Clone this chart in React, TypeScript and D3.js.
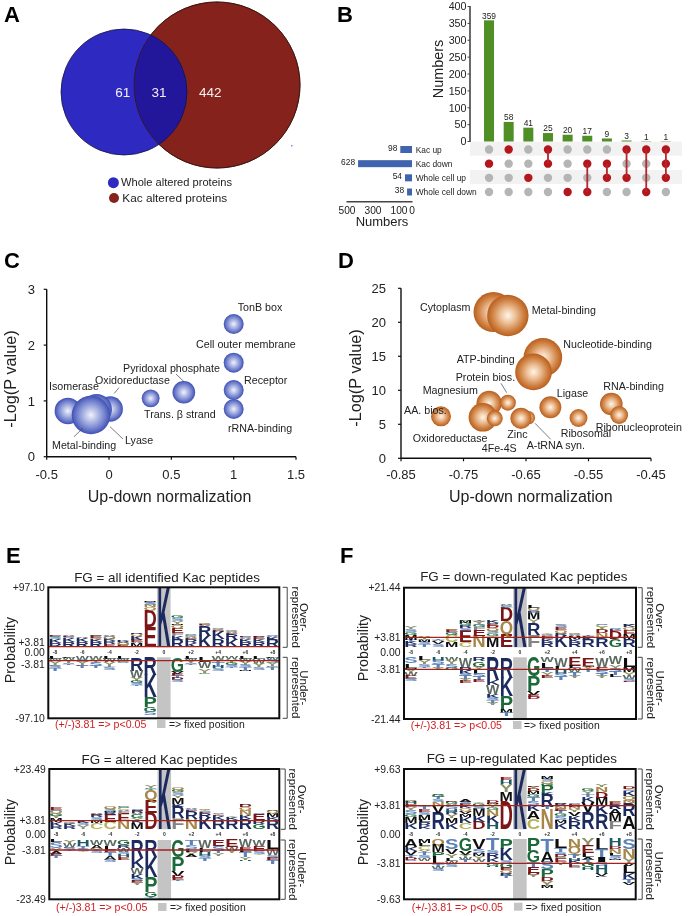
import React from "react";
import * as d3 from "d3";

const FONT = "'Liberation Sans', Arial, sans-serif";

// Panel A
const vennCounts = [61, 31, 442];
const vennLegend = ["Whole altered proteins", "Kac altered proteins"];

// Panel B
const intersectionCounts = [359, 58, 41, 25, 20, 17, 9, 3, 1, 1];
const setNames = ["Kac up", "Kac down", "Whole cell up", "Whole cell down"];
const setLabels = [98, 628, 54, 38];
const setBarLengths = [90, 415, 54, 38];
const setTicks = [500, 300, 100, 0];
const countTicks = [0, 50, 100, 150, 200, 250, 300, 350, 400];
const memberships = [[1], [0], [2], [0, 1], [3], [1, 3], [1, 2], [0, 2], [0, 3], [0, 1, 2]];

// Panel C
const cNames = ["Isomerase", "Oxidoreductase", "Lyase", "Metal-binding", "Trans. β strand", "Pyridoxal phosphate", "TonB box", "Cell outer membrane", "Receptor", "rRNA-binding"];
const cX = [-0.33, 0.01, -0.10, -0.145, 0.334, 0.6, 1, 1, 1, 1];
const cY = [0.82, 0.855, 0.85, 0.747, 1.046, 1.154, 2.378, 1.685, 1.195, 0.855];
const cWeight = [44, 40, 59, 93, 20, 32, 25, 25, 25, 25];
const cXTicks = [-0.5, 0, 0.5, 1, 1.5];
const cYTicks = [0, 1, 2, 3];

// Panel D
const dNames = ["Cytoplasm", "Metal-binding", "Nucleotide-binding", "ATP-binding", "Magnesium", "Protein bios.", "Oxidoreductase", "4Fe-4S", "A-tRNA syn.", "Zinc", "AA. bios.", "Ligase", "Ribosomal", "RNA-binding", "Ribonucleoprotein"];
const dX = [-0.702, -0.679, -0.623, -0.638, -0.709, -0.679, -0.719, -0.70, -0.646, -0.658, -0.786, -0.611, -0.566, -0.5135, -0.501];
const dY = [21.5, 21.0, 14.85, 12.7, 8.08, 8.18, 6.03, 5.88, 5.97, 5.88, 6.17, 7.5, 5.93, 7.98, 6.37];
const dWeight = [100, 107, 93, 84, 40, 16, 51, 16, 11, 28, 25, 30, 20, 32, 20];
const dXTicks = [-0.85, -0.75, -0.65, -0.55, -0.45];
const dYTicks = [0, 5, 10, 15, 20, 25];

// Logo panels: each column lists residues and heights from the axis outward
const logoPositions = ["-8", "", "-6", "", "-4", "", "-2", "", "0", "", "+2", "", "+4", "", "+6", "", "+8"];

const e1Over = ["R4 K4 S2 G1 E1", "R5 K4 S1 E1 A1", "R5 K4 A1", "R5 K3 Q1 E2 G1", "E3 R3 K2 Q2 S1 A1", "E2 Q2 A1 R1 K1", "M4 A1 E2 K4 Q2 R1", "E20 D17 Q3 N2 S2 T1 M1", "K60", "R7 K4 F3 E5 Q3 M1 Y3 S3 G2", "K4 R4 E1 A1 Q1 G1 S1", "K11 R10 A1 E1 Q1", "R8 K7 A1 E1 Q1 S1", "K7 R6 E1 A1 S1 Q1", "R5 K3 A1 S1 E1", "R5 K3 E2 A1", "R7 K3 A1 S1"];
const e1Under = ["L2 W2 Y4 G1 S2 T2", "L1 W2 Y3 S1 T1", "W3 S2 Y3 E1 T2", "W3 Y3 S3 T2", "L2 W3 Y4 T1 S2", "L2 W2 G1 S1", "R13 W7 Y3 G2 S2 T1", "R17 K22 P10 G5 S3", "", "G14 V2 E2 T2 D2 S2", "L2 W2 Y2 S1 T1", "L5 W6 Y4 G1", "W3 Y3 T3 H2 S2", "W2 Y4 G2 S2 T1", "L2 W3 Y3 S2 T2 M1", "L2 W5 Y3 S2", "L1 W2 S3 Y3 G1 T2"];

const e2Over = ["R3 K4 M4 Y2 G3 Q2 S1 E2", "R3 K2 S1 Q1", "Y4 S2 K2 G1", "C6 M3 S3 R2 E1 A1", "C7 E7 R3 M1 S2 Q2", "N8 E7 F3 A1 C2 S1 G1", "M6 K2 Y3 G4 A1 R2 E1 S1", "D16 E13 Q10 T1 G1 Y2", "K60", "F10 N1 R11 K3 M6 Y3 S3 G2 Q3", "N10 R8 E1 S1 A1", "K11 R5 E1 S1 Y1 Q1", "R9 K4 E1 Y1 S1", "R9 K3 Y1", "R10 K4 N5 Q3 D2 A1", "G5 R4 E6 S1", "R9 K3 M4 Q2 A1"];
const e2Under = ["L2 S6 Y3 A3 E2 T2", "Y3 W4 K1 S2 T1", "H6 T3 S2 Y1", "W5 A4 Y2 S2", "W6 L4 E2 T4 A4 S2", "G5 R3 W4 S2 H3 E3", "R18 K10 W6 K5 S2 E3 Y2", "R17 K20 P16 G5 T1", "", "G17 P14 V5 D2 E2 T1", "T5 S4 L3 Y3 A2", "W8 L4 H4 S2 T3", "E6 S5 T2 Y3", "E7 W4 Y2", "W7 E3 L2 T5 Y3 H1", "W6 E5 S3 Y1", "L9 W6 S3 E2 T4"];

const f1Over = ["R3 K2 T2 M5 G3 S3 Y2", "T3 S2 M2 N1 Y2", "S3 V3 A1 T1", "M5 C7 G2 S1 E2 Q1", "C5 E11 S3 R3 G2 M2 Y1", "N11 E6 F3 G2 S1 Y2 Q1 T1", "M10 Y1 G3 S2 Q3 D2 E2 H1 K3", "E13 Q13 D14 T1 S1 G1 A1", "K60", "F12 R12 Y4 M7 S3 Q2 L3", "R5 K3 E3 S1 Q1 Y1", "K11 R3 Q3 E3 S2 Y1", "R5 K3 M3 A1 S1 Q1", "R7 K2 S1 E1 T1", "R9 N5 D4 Y2 C2 S1", "G8 D8 E1 K1 S1", "R8 M5 E4 Q3 K2 A1"];
const f1Under = ["S6 L4 M1 Y4 W3 E3 S2", "L3 Y4 S2 T1", "H4 S3 T3 Y2", "W4 Y3 S3 G2", "W9 R4 K3 S2 T3 Y2 E2", "R4 G5 Y3 L4 S3 T3 E2", "R22 K5 W9 K4 S2 T2 Y2", "R20 K18 P13 M3 T3", "", "G18 P15 V4 E2 D2", "W5 L5 T4 Y4 E2", "W9 L3 H4 S3 T3", "E8 L2 W4 T4 Y2", "E9 Y3 T2", "W9 E4 S3 T2 Y2", "W7 Y4 S3 T3 L2", "L9 M5 Y4 W3 S2 E1"];

const f2Over = ["K6 M6 G3 S4 Y3 E3 H2 A1 Q1", "K3 R4 L2 M5 S3 E3 T2", "R16 V7 N4 S3 T2 G2 A1", "K6 M5 Y4 R2 H3 S4 A1 G2 D1", "C6 K6 M3 V3 Q3 K2 E2 S2 A2", "D7 K6 M7 S3 G3 Y1", "H6 K7 N6 G3 Y3 M1 D2", "D28 M9 Y8 H4 E3", "K60", "C10 A8 K6 S4 T4 G3 M3 D2 Y2 E1", "N20 T2 R12 K2 P7 G2 Q3 S2 M2", "K6 M3 S4 G3 T2 E2 N3 R2 A1", "R8 K5 V4 Y3 N2 E3 S1", "R17 V10 K5 T3 Y3 G2", "R15 K9 M7 D6 N5 Y2", "F8 M7 A5 R5 E2 Q1", "A13 R13 N3 Q4 K5 S1 Y1 D2"];
const f2Under = ["A8 K4 V4 T3 D2 S1", "M4 L3 C4 Y3 T2 S3 W3", "Q6 M7 P5 L7 T3 W2 S2", "S10 V5 Y4 L3 W3 S3", "G12 V4 Y2 W3 T2", "V10 S4 M3 Y3 W3", "T11 S3 R5 K4 Y1 G3 H1", "P10 K11 S3 G5 E2 Q3 R3 T2", "", "P12 G11 T5 E6 D2 Y2", "T13 A10 S7 P8 D4 Y5 M2", "L9 T4 S3 D2 G1 E4 Y3", "N8 Q7 T4 H3 K2 E4 S1", "Y7 E7 L4 A3 T2 G5 H3", "L11 T7 I5 S4 H7 V3 K1", "H7 D3 N5 L2 S2 T1 M1", "S10 N9 Y5 V3 L7 K6 T4 V2"];

const residueColor: Record<string, string> = {
  K: "#1b2a5e", R: "#1b2a5e", H: "#1f5a66", D: "#7c1418", E: "#7c1418",
  G: "#1e6b3a", P: "#1e6b3a", N: "#a8864a", Q: "#a8864a", C: "#b5b35c",
  S: "#5b82b9", T: "#5b82b9", Y: "#8d9266", W: "#5c6a62", F: "#858585",
  A: "#111", L: "#111", M: "#111", V: "#111", I: "#111",
};
const glyphWidth: Record<string, number> = {
  A: .722, C: .722, D: .722, E: .667, F: .611, G: .778, H: .722, I: .278, K: .722, L: .611,
  M: .833, N: .722, P: .667, Q: .778, R: .722, S: .667, T: .611, V: .667, W: .944, Y: .667,
};
const parseColumn = (s: string) => s.split(" ").filter(Boolean).map((t) => ({ letter: t[0], height: +t.slice(1) }));

type LogoProps = {
  title: string; titleX: number; titleY: number;
  x0: number; x1: number; y0: number; y1: number; upBase: number; lowStart: number;
  redOver: number; redUnder: number; maxP: number; labelNudge?: number[];
  over: string[]; under: string[];
  probX: number; probY: number; footY: number; footX: number; squareX: number; textX: number;
  brX: number; repX: number; ovX: number;
};

function Logo(p: LogoProps) {
  const col = d3.scaleBand<number>().domain(d3.range(17)).range([p.x0, p.x1]);
  const w = col.bandwidth();
  const upUnit = d3.scaleLinear().domain([0, 60]).range([0, p.upBase - p.y0]);
  const lowUnit = d3.scaleLinear().domain([0, 60]).range([0, p.y1 - p.lowStart]);
  const zeroY = (p.upBase + p.lowStart) / 2;
  const prob = d3.scaleLinear().domain([-p.maxP, -3.81, 0, 3.81, p.maxP]).range([p.y1, p.redUnder, zeroY, p.redOver, p.y0]);
  const axisTicks = [p.maxP, 3.81, 0, -3.81, -p.maxP];
  const nudge = p.labelNudge || [0, 0];
  const clipId = `logo-${Math.round(p.x0)}-${Math.round(p.y0)}`;
  const glyph = (letter: string, cx: number, bottom: number, h: number, key: string) => {
    const sx = (w * 0.98) / (glyphWidth[letter] * 10);
    const sy = h / (10 * 0.688);
    return (
      <text key={key} transform={`translate(${cx},${bottom}) scale(${sx},${sy})`} fontSize={10} fontWeight="bold" textAnchor="middle" fill={residueColor[letter]}>
        {letter}
      </text>
    );
  };
  return (
    <g fontFamily={FONT}>
      <text x={p.titleX} y={p.titleY} fontSize={13.4} textAnchor="middle" fill="#222">{p.title}</text>
      <defs>
        <clipPath id={clipId}><rect x={p.x0} y={p.y0} width={p.x1 - p.x0} height={p.y1 - p.y0} /></clipPath>
      </defs>
      <g clipPath={`url(#${clipId})`}>
        <rect x={col(8)} y={p.y0} width={w} height={p.upBase - p.y0} fill="#c4c4c4" />
        <rect x={col(8)} y={p.lowStart} width={w} height={p.y1 - p.lowStart} fill="#c4c4c4" />
        {p.over.map((s, i) => {
          let acc = 0;
          return parseColumn(s).map((c, j) => {
            const h = upUnit(c.height);
            const bottom = p.upBase - acc;
            acc += h;
            return glyph(c.letter, col(i)! + w / 2, bottom, h, `o${i}-${j}`);
          });
        })}
        {p.under.map((s, i) => {
          let acc = 0;
          return parseColumn(s).map((c, j) => {
            const h = lowUnit(c.height);
            acc += h;
            return glyph(c.letter, col(i)! + w / 2, p.lowStart + acc, h, `u${i}-${j}`);
          });
        })}
      </g>
      {logoPositions.map((t, i) => t && (
        <text key={i} x={col(i)! + w / 2} y={zeroY + 1.8} fontSize={5} fontWeight="bold" textAnchor="middle" fill="#333">{t}</text>
      ))}
      <line x1={p.x0} x2={p.x1} y1={prob(3.81)} y2={prob(3.81)} stroke="#a3201f" strokeWidth={1.3} />
      <line x1={p.x0} x2={p.x1} y1={prob(-3.81)} y2={prob(-3.81)} stroke="#a3201f" strokeWidth={1.3} />
      <rect x={p.x0} y={p.y0} width={p.x1 - p.x0} height={p.y1 - p.y0} fill="none" stroke="#111" strokeWidth={2} />
      {axisTicks.map((t, i) => {
        const y = prob(t) + (t === 3.81 ? nudge[0] : t === -3.81 ? nudge[1] : 0);
        const label = t === 0 ? "0.00" : (t > 0 ? "+" : "-") + Math.abs(t).toFixed(2);
        return <text key={i} x={p.x0 - 3.5} y={y + 3.6} fontSize={10.4} textAnchor="end" fill="#222">{label}</text>;
      })}
      <text transform={`translate(${p.probX},${p.probY}) rotate(-90)`} fontSize={14.2} textAnchor="middle" fill="#222">Probability</text>
      <path d={`M${p.brX},${p.y0}H${p.brX + 4.5}V${p.upBase}H${p.brX}`} fill="none" stroke="#444" strokeWidth={1} />
      <path d={`M${p.brX},${p.lowStart}H${p.brX + 4.5}V${p.y1}H${p.brX}`} fill="none" stroke="#444" strokeWidth={1} />
      <text transform={`translate(${p.repX},${(p.y0 + p.upBase) / 2}) rotate(90)`} fontSize={11.5} textAnchor="middle" fill="#222">represented</text>
      <text transform={`translate(${p.ovX},${(p.y0 + p.upBase) / 2}) rotate(90)`} fontSize={11.5} textAnchor="middle" fill="#222">Over-</text>
      <text transform={`translate(${p.repX},${(p.y1 + p.lowStart) / 2}) rotate(90)`} fontSize={11.5} textAnchor="middle" fill="#222">represented</text>
      <text transform={`translate(${p.ovX},${(p.y1 + p.lowStart) / 2}) rotate(90)`} fontSize={11.5} textAnchor="middle" fill="#222">Under-</text>
      <text x={p.footX} y={p.footY} fontSize={10.6} fill="#d11f24">(+/-)3.81 =&gt; p&lt;0.05</text>
      <rect x={p.squareX} y={p.footY - 8} width={8.5} height={8} fill="#c4c4c4" />
      <text x={p.textX} y={p.footY} fontSize={10.4} fill="#222">=&gt; fixed position</text>
    </g>
  );
}

type BubbleProps = {
  names: string[]; xs: number[]; ys: number[]; weights: number[]; grad: string;
  xDomain: number[]; xRange: number[]; yDomain: number[]; yRange: number[];
  xTicks: number[]; yTicks: number[]; xFmt: (v: number) => string;
  labelPos: number[][]; leaders: number[][]; xLabelY: number; yLabelRight: number;
  yTitleX: number; yTitleY: number; xTitleX: number; xTitleY: number; order: number[]; labelSize: number;
};

function Bubbles(p: BubbleProps) {
  const x = d3.scaleLinear().domain(p.xDomain).range(p.xRange);
  const y = d3.scaleLinear().domain(p.yDomain).range(p.yRange);
  const r = d3.scaleSqrt().domain([0, 100]).range([0, 20]);
  return (
    <g fontFamily={FONT}>
      {p.order.map((i) => (
        <circle key={i} cx={x(p.xs[i])} cy={y(p.ys[i])} r={r(p.weights[i])} fill={`url(#${p.grad})`} />
      ))}
      {p.leaders.map((l, i) => (
        <line key={i} x1={l[0]} y1={l[1]} x2={l[2]} y2={l[3]} stroke="#444" strokeWidth={0.7} />
      ))}
      <line x1={p.xRange[0]} x2={p.xRange[0]} y1={p.yRange[0]} y2={p.yRange[1]} stroke="#111" strokeWidth={1.4} />
      <line x1={p.xRange[0]} x2={p.xRange[1]} y1={p.yRange[0]} y2={p.yRange[0]} stroke="#111" strokeWidth={1.4} />
      {p.yTicks.map((t) => (
        <g key={t}>
          <line x1={p.xRange[0] - 3} x2={p.xRange[0]} y1={y(t)} y2={y(t)} stroke="#111" strokeWidth={1.2} />
          <text x={p.yLabelRight} y={y(t) + 4.6} fontSize={13} textAnchor="end" fill="#222">{t}</text>
        </g>
      ))}
      {p.xTicks.map((t) => (
        <g key={t}>
          <line x1={x(t)} x2={x(t)} y1={p.yRange[0]} y2={p.yRange[0] + 3} stroke="#111" strokeWidth={1.2} />
          <text x={x(t)} y={p.xLabelY} fontSize={13} textAnchor="middle" fill="#222">{p.xFmt(t)}</text>
        </g>
      ))}
      <text transform={`translate(${p.yTitleX},${p.yTitleY}) rotate(-90)`} fontSize={16.3} textAnchor="middle" fill="#222">-Log(P value)</text>
      <text x={p.xTitleX} y={p.xTitleY} fontSize={16} textAnchor="middle" fill="#222">Up-down normalization</text>
      {p.names.map((n, i) => (
        <text key={n} x={p.labelPos[i][0]} y={p.labelPos[i][1]} fontSize={p.labelSize} fill="#222">{n}</text>
      ))}
    </g>
  );
}

function Venn() {
  return (
    <g fontFamily={FONT}>
      <defs>
        <clipPath id="redClip"><circle cx={217} cy={85} r={83} /></clipPath>
      </defs>
      <circle cx={217} cy={85} r={83} fill="#85241b" stroke="#3a1310" strokeWidth={0.8} />
      <circle cx={124} cy={92} r={63} fill="#2e2bc1" />
      <circle cx={124} cy={92} r={63} fill="#23169b" clipPath="url(#redClip)" />
      <circle cx={124} cy={92} r={63} fill="none" stroke="#15123f" strokeWidth={0.8} />
      <circle cx={217} cy={85} r={83} fill="none" stroke="#3a1310" strokeWidth={0.8} />
      <rect x={291} y={145} width={1.5} height={1.5} fill="#8a8ae0" />
      {vennCounts.map((c, i) => (
        <text key={c} x={[122.7, 159, 210.3][i]} y={97.4} fontSize={13.5} textAnchor="middle" fill="#f4f0f0">{c}</text>
      ))}
      <circle cx={113.4} cy={182.7} r={5.5} fill="#2e2bc1" />
      <circle cx={114} cy={198} r={5} fill="#85241b" />
      <text x={121} y={186} fontSize={11.1} fill="#222">{vennLegend[0]}</text>
      <text x={122.3} y={202} fontSize={11.8} fill="#222">{vennLegend[1]}</text>
    </g>
  );
}

function UpSet() {
  const band = d3.scaleBand<number>().domain(d3.range(10)).range([479.2, 675.7]);
  const cx = (i: number) => band(i)! + band.bandwidth() / 2;
  const y = d3.scaleLinear().domain([0, 400]).range([141.5, 6.5]);
  const rowY = d3.scalePoint<number>().domain(d3.range(4)).range([149.5, 192]);
  const setX = d3.scaleLinear().domain([0, 500]).range([412, 347]);
  return (
    <g fontFamily={FONT} fill="#222">
      <rect x={470} y={141.7} width={212} height={14} fill="#f2f2f2" />
      <rect x={470} y={170} width={212} height={14} fill="#f2f2f2" />
      <line x1={470} x2={470} y1={6} y2={142} stroke="#444" strokeWidth={1.6} />
      {countTicks.map((t) => (
        <g key={t}>
          <line x1={467.5} x2={470} y1={y(t)} y2={y(t)} stroke="#444" />
          <text x={466.5} y={y(t) + 3.8} fontSize={10.7} textAnchor="end">{t}</text>
        </g>
      ))}
      <text transform="translate(443,69) rotate(-90)" fontSize={14.4} textAnchor="middle">Numbers</text>
      {intersectionCounts.map((c, i) => (
        <g key={i}>
          <rect x={cx(i) - 5} y={y(c)} width={10} height={141.5 - y(c)} fill="#4f8f25" />
          <text x={cx(i)} y={y(c) - 1.6} fontSize={8.4} textAnchor="middle">{c}</text>
        </g>
      ))}
      {memberships.map((m, i) => (
        <g key={i}>
          {setNames.map((_, r) => (
            <circle key={r} cx={cx(i)} cy={rowY(r)} r={4.2} fill={m.includes(r) ? "#b5161e" : "#b5b5b5"} />
          ))}
          {m.length > 1 && (
            <line x1={cx(i)} x2={cx(i)} y1={rowY(d3.min(m)!)} y2={rowY(d3.max(m)!)} stroke="#b5262e" strokeWidth={1.8} />
          )}
        </g>
      ))}
      {setNames.map((n, r) => (
        <g key={n}>
          <rect x={setX(setBarLengths[r])} y={rowY(r)! - 3.5} width={412 - setX(setBarLengths[r])} height={7} fill="#4165ae" />
          <text x={setX(setBarLengths[r]) - 3} y={rowY(r)! + 1} fontSize={8.4} textAnchor="end">{setLabels[r]}</text>
          <text x={415.7} y={rowY(r)! + 3} fontSize={8.4}>{n}</text>
        </g>
      ))}
      <line x1={346.5} x2={412.5} y1={201.7} y2={201.7} stroke="#444" strokeWidth={1.6} />
      {setTicks.map((t) => (
        <text key={t} x={setX(t)} y={213.5} fontSize={10.2} textAnchor="middle">{t}</text>
      ))}
      <text x={382} y={226} fontSize={13} textAnchor="middle">Numbers</text>
    </g>
  );
}

const panelLetters: [string, number, number][] = [["A", 4, 22], ["B", 337, 22], ["C", 4, 268], ["D", 338, 268], ["E", 6, 563], ["F", 340, 563]];

const cLabelPos = [[49, 390], [95, 383.7], [125, 444], [52, 449], [144, 418], [123, 371.7], [237.7, 310.7], [196, 348], [244, 384], [228, 432]];
const cLeaders = [[114.3, 393.3, 119, 387.7], [184, 381.7, 176, 374], [74, 436.7, 83, 428], [110, 426.7, 123, 439]];
const dLabelPos = [[420, 311], [531.7, 314], [563.3, 348.3], [456.7, 363.3], [422.7, 394.3], [455.7, 380.7], [412.7, 442.3], [481.7, 452.3], [526.7, 449], [507.3, 438], [404, 413.7], [556.7, 397.3], [560.7, 437.3], [603.3, 389.7], [595.7, 431]];
const dLeaders = [[501, 383.3, 506.7, 392.7], [535, 423.3, 550.7, 439.3]];

export default function App() {
  return (
    <svg width={688} height={916} viewBox="0 0 688 916" style={{ position: "absolute", left: 0, top: 0, display: "block", background: "#fff" }}>
      <defs>
        <radialGradient id="blueBall">
          <stop offset="0%" stopColor="#f1f3fb" />
          <stop offset="35%" stopColor="#b3bce6" />
          <stop offset="75%" stopColor="#6e7dcb" />
          <stop offset="100%" stopColor="#3f4fb4" />
        </radialGradient>
        <radialGradient id="orangeBall">
          <stop offset="0%" stopColor="#fff5ea" />
          <stop offset="35%" stopColor="#eec39c" />
          <stop offset="75%" stopColor="#cf8244" />
          <stop offset="100%" stopColor="#b85e1e" />
        </radialGradient>
        <filter id="soft" x="0" y="0" width="100%" height="100%">
          <feGaussianBlur stdDeviation="0.35" />
        </filter>
      </defs>
      <g filter="url(#soft)">
        <rect width={688} height={916} fill="#fff" />
        <Venn />
        <UpSet />
        <Bubbles names={cNames} xs={cX} ys={cY} weights={cWeight} grad="blueBall"
          xDomain={[-0.5, 1.5]} xRange={[46.7, 296]} yDomain={[0, 3]} yRange={[456.7, 289.3]}
          xTicks={cXTicks} yTicks={cYTicks} xFmt={(v) => String(v)}
          labelPos={cLabelPos} leaders={cLeaders} xLabelY={479.3} yLabelRight={35}
          yTitleX={15.5} yTitleY={379} xTitleX={169.5} xTitleY={501.5}
          order={[0, 1, 2, 3, 4, 5, 6, 7, 8, 9]} labelSize={10.7} />
        <Bubbles names={dNames} xs={dX} ys={dY} weights={dWeight} grad="orangeBall"
          xDomain={[-0.85, -0.45]} xRange={[401, 651]} yDomain={[0, 25]} yRange={[458.3, 288.3]}
          xTicks={dXTicks} yTicks={dYTicks} xFmt={(v) => v.toFixed(2)}
          labelPos={dLabelPos} leaders={dLeaders} xLabelY={478.5} yLabelRight={386}
          yTitleX={361} yTitleY={378} xTitleX={530.8} xTitleY={501.5}
          order={[8, 0, 1, 2, 3, 4, 5, 6, 7, 9, 10, 11, 12, 13, 14]} labelSize={10.7} />
        <Logo title="FG = all identified Kac peptides" titleX={167} titleY={582}
          x0={48.3} x1={279.3} y0={587.3} y1={718.3} upBase={647.3} lowStart={657.3}
          redOver={646.7} redUnder={660.7} maxP={97.1} labelNudge={[-4.7, 3.3]}
          over={e1Over} under={e1Under} probX={14.5} probY={650}
          footX={55} footY={728} squareX={157} textX={169} brX={282.7} repX={291.5} ovX={300} />
        <Logo title="FG = altered Kac peptides" titleX={159.5} titleY={764.3}
          x0={49.3} x1={279.3} y0={769} y1={899.3} upBase={829.3} lowStart={840}
          redOver={820.7} redUnder={850} maxP={23.49}
          over={e2Over} under={e2Under} probX={14.5} probY={832}
          footX={56} footY={911} squareX={158} textX={170} brX={280.7} repX={289.3} ovX={298} />
        <Logo title="FG = down-regulated Kac peptides" titleX={523.8} titleY={580.7}
          x0={404} x1={636} y0={587.7} y1={719} upBase={647.3} lowStart={657.3}
          redOver={637.3} redUnder={669.3} maxP={21.44}
          over={f1Over} under={f1Under} probX={368} probY={648}
          footX={410.7} footY={729} squareX={513} textX={524} brX={637.7} repX={647.3} ovX={656} />
        <Logo title="FG = up-regulated Kac peptides" titleX={521.8} titleY={763.3}
          x0={404} x1={635.7} y0={769} y1={899.3} upBase={829.3} lowStart={839}
          redOver={805.7} redUnder={863.3} maxP={9.63}
          over={f2Over} under={f2Under} probX={368} probY={832}
          footX={411.7} footY={910.7} squareX={514} textX={525.7} brX={637.7} repX={646} ovX={655} />
        {panelLetters.map(([t, x, y]) => (
          <text key={t} x={x} y={y} fontFamily={FONT} fontWeight="bold" fontSize={22} fill="#000">{t}</text>
        ))}
      </g>
    </svg>
  );
}
